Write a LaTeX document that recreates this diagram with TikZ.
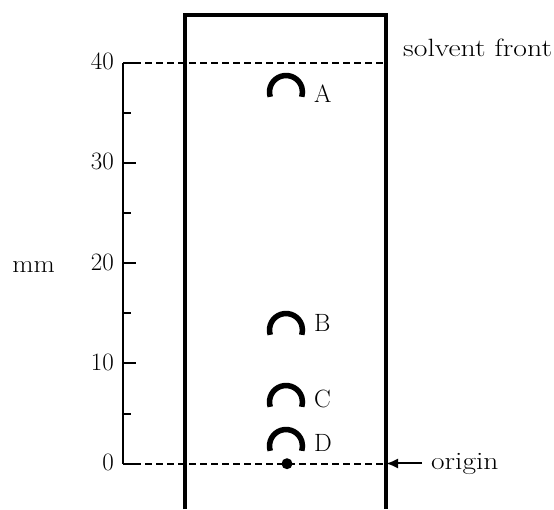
\documentclass[tikz,border=0pt]{standalone}
\usepackage{fontspec}
\usetikzlibrary{arrows.meta}
\begin{document}
\begin{tikzpicture}[x=1pt,y=-1pt,
  txt/.style={inner sep=0pt, font=\fontsize{25}{30}\selectfont},
  plate/.style={line width=3.5pt, line cap=butt, line join=miter},
  axisline/.style={line width=2pt},
  dashline/.style={line width=2pt, dash pattern=on 7pt off 4pt},
  spot/.style={line width=5.5pt, line cap=butt},
  arrowline/.style={line width=2pt, -{Latex[length=12pt,width=10pt]}},
  ]
\useasboundingbox (0,0) rectangle (554,509);
% axis coordinates
\coordinate (a0) at (123,463.7);
\coordinate (a40) at (123,62.5);
\coordinate (plTL) at (185,15);
\coordinate (plTR) at (386,15);
\coordinate (plBL) at (185,509);
\coordinate (plBR) at (386,509);
% dashed lines
\draw[dashline] (a40) -- (a40 -| plTR);
\draw[dashline] (a0) -- (a0 -| plTR);
% axis
\draw[axisline] (a0) -- (a40);
\foreach \m in {0,10,20,30,40} {
  \draw[axisline] (123,463.7-10.03*\m) -- (136,463.7-10.03*\m);
  \node[txt, anchor=base east] (n\m) at (114,470.7-10.03*\m) {\m};
}
\foreach \m in {5,15,25,35} {
  \draw[axisline] (123,463.7-10.03*\m) -- (131,463.7-10.03*\m);
}
\node[txt, anchor=base east] (mm) at (55,272) {\scalebox{1.1}[1]{mm}};
% plate
\draw[plate] (plBL) -- (plTL) -- (plTR) -- (plBR);
% spots
\foreach \s/\cy/\by in {A/92/102, B/330/331, C/402/407, D/446/451} {
  \coordinate (c\s) at (286,\cy);
  \draw[spot] (c\s) ++(197:16.5pt) arc[start angle=197, end angle=-17, radius=16.5pt];
  \node[txt, anchor=base west] (l\s) at (314,\by) {\s};
}
% origin dot
\coordinate (dot) at (287,463.7);
\fill (dot) circle[radius=5.5pt];
% labels
\node[txt, anchor=base west] (front) at (403,56) {\scalebox{1.19}[1]{solvent front}};
\node[txt, anchor=base west] (origin) at (431,469) {\scalebox{1.18}[1]{origin}};
\draw[arrowline] ([xshift=-9pt]origin.west) -- (origin.west -| plBR);
\end{tikzpicture}
\end{document}
